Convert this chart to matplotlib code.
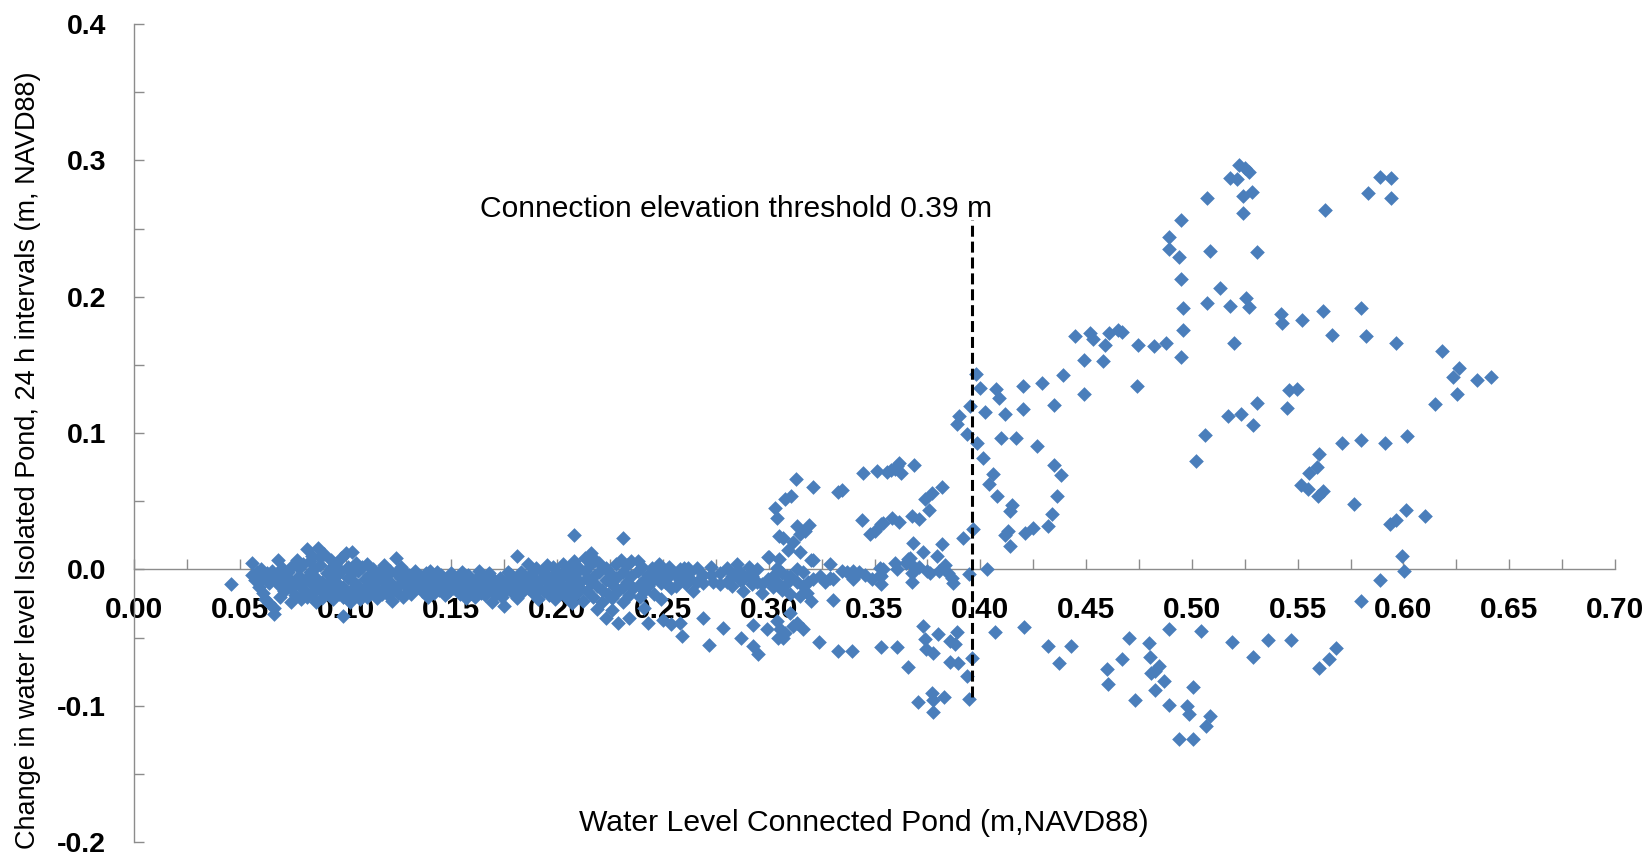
import numpy as np
import matplotlib.pyplot as plt
from matplotlib.ticker import MultipleLocator, FormatStrFormatter

plt.rcParams['font.family'] = ['Liberation Sans', 'DejaVu Sans']
plt.rcParams['axes.unicode_minus'] = False

# (connected pond level, 24 h change in isolated pond) in m
dry_band = [
    (0.046, -0.011),
    (0.056, 0.005), (0.056, -0.004), (0.057, -0.008), (0.058, -0.002), (0.059, -0.013),
    (0.060, 0.000), (0.061, -0.006), (0.061, -0.017), (0.062, -0.022),
    (0.063, -0.003), (0.064, -0.010), (0.064, -0.025),
    (0.065, -0.001), (0.066, -0.007), (0.066, -0.028), (0.066, -0.033),
    (0.068, 0.007), (0.068, -0.004), (0.069, -0.012), (0.069, -0.020),
    (0.070, 0.001), (0.071, -0.009), (0.071, -0.016),
    (0.073, -0.002), (0.073, -0.006), (0.074, -0.014), (0.074, -0.024),
    (0.075, 0.003), (0.076, -0.010), (0.076, -0.019),
    (0.077, 0.007), (0.078, 0.001), (0.078, -0.005), (0.079, -0.013), (0.079, -0.022),
    (0.080, 0.004), (0.081, -0.008), (0.081, -0.016), (0.082, -0.020),
    (0.082, 0.015), (0.083, 0.006), (0.083, -0.002), (0.084, -0.011), (0.084, -0.018),
    (0.084, 0.010), (0.085, 0.000), (0.086, -0.006), (0.086, -0.014), (0.086, -0.024),
    (0.087, 0.016), (0.088, 0.009), (0.088, 0.003), (0.089, -0.009), (0.089, -0.016), (0.089, -0.021),
    (0.090, 0.011), (0.091, -0.003), (0.091, -0.012), (0.092, -0.019),
    (0.093, 0.007), (0.093, 0.001), (0.094, -0.007), (0.094, -0.015), (0.094, -0.022),
    (0.095, 0.004), (0.096, -0.004), (0.096, -0.010), (0.097, -0.018),
    (0.098, 0.008), (0.098, -0.001), (0.099, -0.013), (0.099, -0.020), (0.099, -0.034),
    (0.100, 0.012), (0.101, 0.002), (0.101, -0.006), (0.102, -0.016), (0.102, -0.024),
    (0.103, 0.013), (0.103, -0.003), (0.104, -0.009), (0.104, -0.019),
    (0.105, 0.005), (0.106, -0.001), (0.106, -0.012), (0.107, -0.017), (0.107, -0.022),
    (0.108, 0.002), (0.109, -0.007), (0.109, -0.014), (0.110, -0.020),
    (0.110, 0.004), (0.111, -0.004), (0.112, -0.010), (0.112, -0.016),
    (0.113, 0.000), (0.114, -0.008), (0.114, -0.013), (0.115, -0.021),
    (0.116, -0.002), (0.116, -0.006), (0.117, -0.015), (0.117, -0.018),
    (0.118, 0.003), (0.119, -0.005), (0.119, -0.011), (0.120, -0.019),
    (0.121, -0.001), (0.121, -0.009), (0.122, -0.014), (0.122, -0.023),
    (0.124, 0.008), (0.124, -0.003), (0.125, -0.012), (0.125, -0.017),
    (0.126, 0.002), (0.126, -0.006), (0.127, -0.010), (0.127, -0.020),
    (0.128, -0.002), (0.129, -0.008), (0.130, -0.015),
    (0.130, -0.004), (0.131, -0.011), (0.131, -0.018),
    (0.133, -0.001), (0.133, -0.007), (0.134, -0.013),
    (0.135, -0.005), (0.136, -0.009), (0.136, -0.016),
    (0.138, -0.003), (0.138, -0.009), (0.139, -0.014), (0.139, -0.020),
    (0.140, -0.001), (0.141, -0.006), (0.141, -0.012), (0.142, -0.017),
    (0.143, -0.002), (0.144, -0.008), (0.144, -0.015),
    (0.145, -0.004), (0.146, -0.010), (0.146, -0.013), (0.147, -0.019),
    (0.148, -0.007), (0.149, -0.011), (0.149, -0.016),
    (0.150, -0.003), (0.151, -0.009), (0.151, -0.014),
    (0.153, -0.006), (0.153, -0.012), (0.154, -0.018),
    (0.155, -0.002), (0.156, -0.008), (0.156, -0.015), (0.157, -0.021),
    (0.158, -0.004), (0.159, -0.011), (0.159, -0.016),
    (0.160, -0.009), (0.161, -0.013), (0.161, -0.020),
    (0.163, -0.001), (0.163, -0.005), (0.164, -0.010), (0.164, -0.017),
    (0.165, -0.007), (0.166, -0.014), (0.166, -0.019),
    (0.168, -0.003), (0.168, -0.011), (0.169, -0.016), (0.169, -0.024),
    (0.170, -0.008), (0.171, -0.013), (0.171, -0.018),
    (0.173, -0.006), (0.173, -0.012), (0.174, -0.020),
    (0.175, -0.027), (0.176, -0.010), (0.176, -0.015),
    (0.177, -0.002), (0.178, -0.004), (0.178, -0.009), (0.179, -0.017),
    (0.180, -0.007), (0.181, -0.013), (0.181, -0.021),
    (0.181, 0.010), (0.183, -0.002), (0.183, -0.011), (0.184, -0.016),
    (0.186, 0.004), (0.185, -0.006), (0.186, -0.014),
    (0.188, -0.003), (0.188, -0.009), (0.189, -0.018),
    (0.190, 0.001), (0.190, -0.008), (0.191, -0.013), (0.191, -0.022),
    (0.193, -0.001), (0.193, -0.006), (0.194, -0.016),
    (0.195, 0.003), (0.195, -0.004), (0.196, -0.011), (0.196, -0.019),
    (0.198, 0.002), (0.198, -0.008), (0.199, -0.014), (0.199, -0.022),
    (0.200, -0.002), (0.201, -0.010), (0.201, -0.017),
    (0.203, 0.004), (0.203, -0.005), (0.204, -0.013), (0.204, -0.020),
    (0.205, 0.001), (0.206, -0.007), (0.206, -0.015), (0.207, -0.025),
    (0.208, 0.025), (0.208, 0.006), (0.209, -0.003), (0.209, -0.011), (0.209, -0.018),
    (0.210, 0.002), (0.211, -0.009), (0.211, -0.014), (0.212, -0.023),
    (0.213, 0.008), (0.213, -0.001), (0.214, -0.006), (0.214, -0.016),
    (0.215, 0.010), (0.216, 0.004), (0.216, -0.010), (0.217, -0.020),
    (0.216, 0.012), (0.218, 0.007), (0.218, -0.004), (0.219, -0.012), (0.219, -0.029),
    (0.220, 0.005), (0.220, -0.002), (0.221, -0.015), (0.221, -0.024),
    (0.223, 0.001), (0.223, -0.008), (0.224, -0.018), (0.223, -0.036),
    (0.225, -0.003), (0.226, -0.011), (0.226, -0.021), (0.226, -0.030),
    (0.228, 0.004), (0.228, -0.006), (0.229, -0.016), (0.229, -0.039),
    (0.231, 0.023), (0.230, 0.007), (0.231, -0.002), (0.231, -0.013), (0.231, -0.024),
    (0.233, 0.003), (0.233, -0.009), (0.234, -0.019),
    (0.235, 0.006), (0.235, -0.005), (0.236, -0.014), (0.234, -0.036),
    (0.238, 0.006), (0.238, -0.001), (0.239, -0.011), (0.239, -0.020),
    (0.240, 0.002), (0.241, -0.008), (0.241, -0.016), (0.241, -0.028),
    (0.243, -0.004), (0.243, -0.012), (0.243, -0.039),
    (0.245, 0.001), (0.246, -0.007), (0.246, -0.018),
    (0.248, 0.004), (0.248, -0.003), (0.249, -0.010), (0.249, -0.022),
    (0.250, -0.001), (0.251, -0.009), (0.250, -0.037),
    (0.253, 0.002), (0.253, -0.005), (0.254, -0.014),
    (0.255, -0.003), (0.256, -0.012), (0.254, -0.040),
    (0.258, 0.000), (0.258, -0.008), (0.258, -0.039), (0.259, -0.049),
    (0.260, 0.001), (0.261, -0.004), (0.261, -0.011),
    (0.262, 0.001), (0.263, -0.002), (0.263, -0.007), (0.264, -0.016),
]

rising_limb = [
    # near the axis
    (0.2628, -0.007), (0.2659, -0.009), (0.2659, 0.001), (0.2691, -0.010), (0.2691, -0.004),
    (0.2725, -0.004), (0.2725, 0.002), (0.2738, -0.009), (0.2769, -0.011), (0.2769, -0.003),
    (0.2801, -0.009), (0.2801, 0.001), (0.2825, -0.005), (0.2825, -0.012), (0.2848, 0.004),
    (0.2848, -0.002), (0.2864, -0.002), (0.2864, -0.008), (0.2880, -0.007), (0.2880, -0.016),
    (0.2908, 0.002), (0.2908, -0.004), (0.2919, -0.005), (0.2919, -0.011), (0.2943, -0.009),
    (0.2943, 0.000), (0.2966, -0.011), (0.2966, -0.017), (0.2998, -0.007), (0.2998, 0.009),
    (0.3021, -0.005), (0.3021, -0.013), (0.3040, -0.009), (0.3040, 0.001), (0.3061, -0.003),
    (0.3061, -0.015), (0.3085, -0.010), (0.3085, -0.005), (0.3100, -0.005), (0.3100, -0.018),
    (0.3132, -0.009), (0.3132, 0.000), (0.3163, -0.002), (0.3163, -0.012), (0.3187, -0.009),
    (0.3210, -0.007), (0.3210, 0.007), (0.3242, -0.005), (0.3266, -0.009), (0.3289, 0.004),
    (0.3289, -0.006), (0.3305, -0.007), (0.3345, -0.001), (0.3368, -0.002), (0.3400, -0.001),
    (0.3400, -0.007), (0.3428, -0.002), (0.3455, -0.004), (0.3486, -0.007), (0.3526, -0.004),
    (0.3526, 0.001), (0.3533, -0.011), (0.3533, -0.005), (0.3541, 0.000), (0.3604, 0.000),
    # below the axis
    (0.2691, -0.0355), (0.2785, -0.0428), (0.2717, -0.0555), (0.2869, -0.0506), (0.2927, -0.0411),
    (0.2924, -0.0562), (0.2950, -0.0624), (0.2990, -0.0440), (0.3037, -0.0379), (0.3053, -0.0440),
    (0.3045, -0.0501), (0.3077, -0.0465), (0.3069, -0.0501), (0.3100, -0.0318), (0.3132, -0.0391),
    (0.3163, -0.0440), (0.3116, -0.0416), (0.3179, -0.0171), (0.3198, -0.0233), (0.3147, -0.0196),
    (0.3239, -0.0531), (0.3302, -0.0228), (0.3329, -0.0599), (0.3392, -0.0599), (0.3529, -0.0567),
    (0.3607, -0.0567), (0.3659, -0.0714),
    (0.3730, -0.0416), (0.3801, -0.0477), (0.3888, -0.0460), (0.3856, -0.0526), (0.3738, -0.0509),
    (0.3743, -0.0587), (0.3778, -0.0611), (0.3880, -0.0550), (0.3856, -0.0680), (0.3896, -0.0690),
    (0.3959, -0.0648), (0.3938, -0.0783), (0.3707, -0.0971), (0.3770, -0.0910), (0.3778, -0.0961),
    (0.3829, -0.0934), (0.3775, -0.1047), (0.3948, -0.0949),
    # above the axis
    (0.3129, 0.0665), (0.3210, 0.0607), (0.3329, 0.0567), (0.3347, 0.0582), (0.3447, 0.0709),
    (0.3514, 0.0721), (0.3557, 0.0714), (0.3580, 0.0729), (0.3617, 0.0783), (0.3597, 0.0734),
    (0.3623, 0.0704), (0.3686, 0.0763), (0.3604, 0.0758), (0.3077, 0.0519), (0.3107, 0.0538),
    (0.3029, 0.0453), (0.3040, 0.0379), (0.3135, 0.0318), (0.3171, 0.0281), (0.3191, 0.0323),
    (0.3147, 0.0257), (0.3050, 0.0244), (0.3066, 0.0232), (0.3116, 0.0200), (0.3089, 0.0142),
    (0.3147, 0.0127), (0.3001, 0.0090), (0.3050, 0.0078), (0.3202, 0.0066), (0.3443, 0.0362),
    (0.3478, 0.0257), (0.3502, 0.0281), (0.3533, 0.0330), (0.3541, 0.0343), (0.3585, 0.0379),
    (0.3617, 0.0347), (0.3675, 0.0391), (0.3680, 0.0191), (0.3667, 0.0086), (0.3597, 0.0049),
    (0.3648, 0.0049), (0.3817, 0.0604), (0.3770, 0.0558), (0.3738, 0.0514), (0.3758, 0.0433),
    (0.3711, 0.0367), (0.3817, 0.0183), (0.3727, 0.0127), (0.3660, 0.0073), (0.3683, 0.0024),
    (0.3711, 0.0017), (0.3746, -0.0012), (0.3762, -0.0029), (0.3797, 0.0098), (0.3806, -0.0012),
    (0.3833, 0.0029), (0.3848, -0.0024), (0.3864, -0.0061), (0.3872, -0.0098), (0.3675, -0.0024),
    (0.3675, -0.0093), (0.3967, 0.0298), (0.3916, 0.0232), (0.3948, -0.0037),
]

connected = [
    (0.5072, 0.2722), (0.4951, 0.2561), (0.4890, 0.2434), (0.4890, 0.2353), (0.4940, 0.2291),
    (0.5088, 0.2333), (0.4951, 0.2133), (0.5132, 0.2060), (0.5072, 0.1952), (0.4959, 0.1917),
    (0.4959, 0.1759), (0.4951, 0.1560), (0.4880, 0.1663), (0.4820, 0.1638), (0.4746, 0.1648),
    (0.4742, 0.1343), (0.4672, 0.1741), (0.4652, 0.1753), (0.4610, 0.1736), (0.4589, 0.1648),
    (0.4578, 0.1526), (0.4531, 0.1692), (0.4518, 0.1736), (0.4450, 0.1712), (0.4490, 0.1533),
    (0.4490, 0.1289), (0.4389, 0.1423), (0.4290, 0.1370), (0.4201, 0.1343), (0.4201, 0.1179),
    (0.4348, 0.1203), (0.4074, 0.1326), (0.4088, 0.1257), (0.4118, 0.1137), (0.4000, 0.1330),
    (0.3979, 0.1431), (0.3951, 0.1198), (0.4022, 0.1154), (0.3900, 0.1125), (0.3891, 0.1069),
    (0.3938, 0.0990), (0.3983, 0.0924), (0.4100, 0.0961), (0.4168, 0.0961), (0.4266, 0.0905),
    (0.5061, 0.0985),
    (0.5222, 0.2966), (0.5250, 0.2942), (0.5269, 0.2918), (0.5180, 0.2874), (0.5214, 0.2866),
    (0.5243, 0.2739), (0.5282, 0.2771), (0.5243, 0.2612), (0.5630, 0.2639), (0.5890, 0.2881),
    (0.5940, 0.2869), (0.5832, 0.2761), (0.5940, 0.2722), (0.5310, 0.2331), (0.5180, 0.1932),
    (0.5258, 0.1990), (0.5269, 0.1927), (0.5200, 0.1663), (0.5420, 0.1876), (0.5428, 0.1807),
    (0.5521, 0.1829), (0.5620, 0.1893), (0.5662, 0.1719), (0.5799, 0.1920), (0.5821, 0.1712),
    (0.5963, 0.1658), (0.6181, 0.1602), (0.6262, 0.1480), (0.6232, 0.1409), (0.6350, 0.1389),
    (0.6413, 0.1409), (0.6252, 0.1289), (0.6150, 0.1211), (0.5460, 0.1316), (0.5499, 0.1326),
    (0.5310, 0.1220), (0.5449, 0.1181), (0.5230, 0.1142), (0.5172, 0.1123), (0.5290, 0.1061),
    (0.5712, 0.0924), (0.5799, 0.0951), (0.5914, 0.0924), (0.6019, 0.0978),
    (0.5020, 0.0795), (0.5600, 0.0844), (0.5553, 0.0709), (0.5592, 0.0751), (0.5518, 0.0619),
    (0.5550, 0.0592), (0.5597, 0.0538), (0.5620, 0.0575), (0.5767, 0.0482), (0.5936, 0.0330),
    (0.5963, 0.0362), (0.6011, 0.0438), (0.6104, 0.0391), (0.5991, 0.0098), (0.6002, -0.0012),
    (0.5890, -0.0081), (0.5800, -0.0233), (0.5045, -0.0453), (0.5191, -0.0531), (0.5361, -0.0518),
    (0.5468, -0.0518), (0.5290, -0.0641), (0.5679, -0.0575), (0.5649, -0.0660), (0.5599, -0.0724),
    (0.5085, -0.1076), (0.5069, -0.1149),
    (0.4014, 0.0819), (0.4348, 0.0765), (0.4381, 0.0692), (0.4061, 0.0697), (0.4041, 0.0629),
    (0.4077, 0.0538), (0.4363, 0.0538), (0.4151, 0.0470), (0.4140, 0.0428), (0.4340, 0.0404),
    (0.4321, 0.0318), (0.4250, 0.0306), (0.4211, 0.0269), (0.4132, 0.0281), (0.4116, 0.0249),
    (0.4140, 0.0171), (0.4030, 0.0000),
    (0.4069, -0.0460), (0.4208, -0.0420), (0.4321, -0.0562), (0.4427, -0.0562), (0.4371, -0.0685),
    (0.4704, -0.0501), (0.4671, -0.0660), (0.4597, -0.0729), (0.4606, -0.0844), (0.4798, -0.0543),
    (0.4802, -0.0641), (0.4846, -0.0709), (0.4825, -0.0746), (0.4809, -0.0758), (0.4868, -0.0819),
    (0.4828, -0.0885), (0.4730, -0.0958), (0.4893, -0.0440), (0.4890, -0.0998), (0.5006, -0.0863),
    (0.4978, -0.1003), (0.4987, -0.1064), (0.4940, -0.1247), (0.5006, -0.1247),
]

threshold_x = 0.396
threshold_label = 'Connection elevation threshold 0.39 m'

pts = np.array(dry_band + rising_limb + connected)

fig = plt.figure(figsize=(16.52, 8.57), dpi=100)
ax = fig.add_axes([134 / 1652, 1 - 842 / 857, (1615 - 134) / 1652, (842 - 24) / 857])

ax.scatter(pts[:, 0], pts[:, 1], marker='D', s=56, color='#4a7ebb', linewidths=0, zorder=3)

# dashed threshold line with its label
ax.plot([threshold_x, threshold_x], [-0.094, 0.256], color='black', lw=2.2,
        linestyle=(0, (3.6, 1.6)), zorder=4)
ax.text(0.4057, 0.264, threshold_label, ha='right', va='center', fontsize=21.6)

ax.set_xlim(0, 0.70)
ax.set_ylim(-0.2, 0.4)

axis_grey = '#8c8c8c'
for side in ('top', 'right'):
    ax.spines[side].set_visible(False)
ax.spines['bottom'].set_position(('data', 0))
for side in ('left', 'bottom'):
    ax.spines[side].set_color(axis_grey)
    ax.spines[side].set_linewidth(1)

ax.xaxis.set_major_locator(MultipleLocator(0.05))
ax.xaxis.set_minor_locator(MultipleLocator(0.025))
ax.xaxis.set_major_formatter(FormatStrFormatter('%.2f'))
ax.yaxis.set_major_locator(MultipleLocator(0.1))
ax.yaxis.set_minor_locator(MultipleLocator(0.05))
ax.yaxis.set_major_formatter(FormatStrFormatter('%.1f'))

ax.tick_params(axis='both', which='both', direction='in', length=7, width=1, color=axis_grey)
ax.tick_params(axis='x', which='major', pad=19)
ax.tick_params(axis='y', which='major', pad=20)
for lbl in ax.get_xticklabels():
    lbl.set_fontweight('bold')
    lbl.set_fontsize(21.5)
for lbl in ax.get_yticklabels():
    lbl.set_fontweight('bold')
    lbl.set_fontsize(20.5)

ax.text(0.345, -0.186, 'Water Level Connected Pond (m,NAVD88)', ha='center', va='center',
        fontsize=21.7)
fig.text(28 / 1652, 1 - 460 / 857,
         'Change in water level Isolated Pond, 24 h intervals (m, NAVD88)',
         rotation=90, ha='center', va='center', fontsize=19.5)

fig.savefig('out.png', dpi=100)
